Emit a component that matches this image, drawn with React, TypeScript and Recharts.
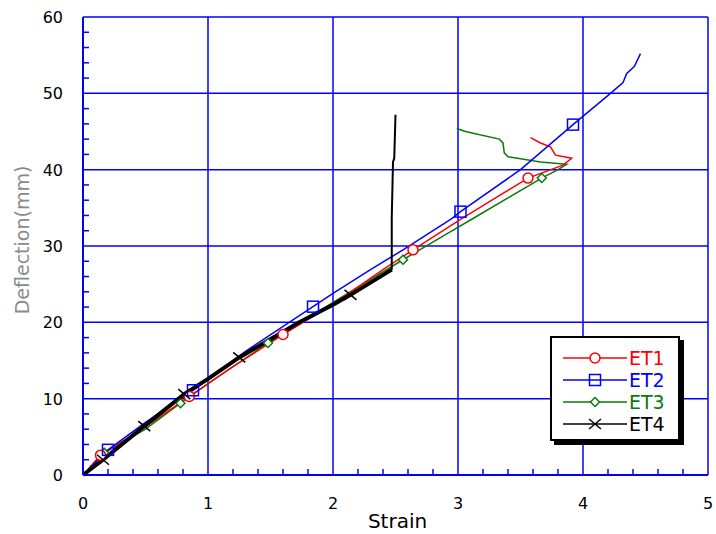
import React from 'react'
import { LineChart, Line, XAxis, YAxis, CartesianGrid } from 'recharts'

type Pt = { x: number; y: number; m?: boolean }

const X_MAJOR = [0, 1, 2, 3, 4, 5]
const X_TICKS = [0, 0.2, 0.4, 0.6, 0.8, 1, 1.2, 1.4, 1.6, 1.8, 2, 2.2, 2.4, 2.6, 2.8, 3, 3.2, 3.4, 3.6, 3.8, 4, 4.2, 4.4, 4.6, 4.8, 5]
const Y_MAJOR = [0, 10, 20, 30, 40, 50, 60]
const Y_TICKS = [0, 2, 4, 6, 8, 10, 12, 14, 16, 18, 20, 22, 24, 26, 28, 30, 32, 34, 36, 38, 40, 42, 44, 46, 48, 50, 52, 54, 56, 58, 60]

// m = marker drawn at this point
const et1: Pt[] = [
  { x: 0, y: 0 }, { x: 0.14, y: 2.6, m: true }, { x: 0.5, y: 6.3 }, { x: 0.85, y: 10.3, m: true },
  { x: 1.2, y: 14.2 }, { x: 1.6, y: 18.4, m: true }, { x: 2.0, y: 22.4 }, { x: 2.4, y: 26.9 },
  { x: 2.64, y: 29.5, m: true }, { x: 3.03, y: 33.6 }, { x: 3.3, y: 36.3 }, { x: 3.56, y: 38.9, m: true },
  { x: 3.84, y: 40.6 }, { x: 3.91, y: 41.5 }, { x: 3.78, y: 41.9 }, { x: 3.74, y: 43 },
  { x: 3.66, y: 43.5 }, { x: 3.58, y: 44.2 },
]

const et2: Pt[] = [
  { x: 0, y: 0 }, { x: 0.2, y: 3.3, m: true }, { x: 0.5, y: 6.9 }, { x: 0.88, y: 11.1, m: true },
  { x: 1.3, y: 16.2 }, { x: 1.84, y: 22.05, m: true }, { x: 2.0, y: 23.8 }, { x: 2.3, y: 26.9 },
  { x: 2.56, y: 29.5 }, { x: 2.95, y: 33.6 }, { x: 3.02, y: 34.5, m: true }, { x: 3.5, y: 40 },
  { x: 3.92, y: 45.9, m: true }, { x: 4.22, y: 50 }, { x: 4.32, y: 51.4 }, { x: 4.35, y: 52.6 },
  { x: 4.41, y: 53.5 }, { x: 4.46, y: 55.2 },
]

const et3: Pt[] = [
  { x: 0, y: 0 }, { x: 0.17, y: 2.9, m: true }, { x: 0.5, y: 6.0 }, { x: 0.78, y: 9.4, m: true },
  { x: 1.1, y: 13.1 }, { x: 1.48, y: 17.3, m: true }, { x: 1.9, y: 21.6 }, { x: 2.2, y: 24.6 },
  { x: 2.56, y: 28.2, m: true }, { x: 2.9, y: 31.5 }, { x: 3.12, y: 33.6 }, { x: 3.4, y: 36.3 },
  { x: 3.67, y: 38.9, m: true }, { x: 3.8, y: 40.0 }, { x: 3.87, y: 40.7 }, { x: 3.66, y: 41.0 },
  { x: 3.4, y: 41.7 }, { x: 3.37, y: 42.2 }, { x: 3.36, y: 43.5 }, { x: 3.33, y: 44.0 },
  { x: 3.06, y: 45.0 }, { x: 2.99, y: 45.4 },
]

const et4: Pt[] = [
  { x: 0, y: 0 }, { x: 0.16, y: 2.0, m: true }, { x: 0.49, y: 6.4, m: true }, { x: 0.81, y: 10.6, m: true },
  { x: 1.0, y: 12.6 }, { x: 1.25, y: 15.4, m: true }, { x: 1.73, y: 20 }, { x: 2.0, y: 22.3 },
  { x: 2.14, y: 23.6, m: true }, { x: 2.3, y: 25.2 }, { x: 2.47, y: 26.9 },
]
// sudden jump at the end of ET4
const et4Jump: Pt[] = [
  { x: 2.47, y: 26.9 }, { x: 2.47, y: 33.7 }, { x: 2.48, y: 41.0 }, { x: 2.49, y: 41.5 }, { x: 2.5, y: 47.2 },
]

const BLUE = '#0000ff'
const FONT = '"DejaVu Sans", Arial, sans-serif'

type Shape = 'circle' | 'square' | 'diamond' | 'cross'

function Marker({ shape, cx, cy, color }: { shape: Shape; cx: number; cy: number; color: string }) {
  if (shape === 'circle') return <circle cx={cx} cy={cy} r={5} fill="#fff" stroke={color} strokeWidth={1.5} />
  if (shape === 'square') return <rect x={cx - 5.5} y={cy - 5.5} width={11} height={11} fill="none" stroke={color} strokeWidth={1.5} />
  if (shape === 'diamond')
    return <path d={`M${cx},${cy - 4.5}L${cx + 4.5},${cy}L${cx},${cy + 4.5}L${cx - 4.5},${cy}Z`} fill="#fff" stroke={color} strokeWidth={1.5} />
  return <path d={`M${cx - 6},${cy - 5}L${cx + 6},${cy + 5}M${cx - 6},${cy + 5}L${cx + 6},${cy - 5}`} stroke={color} strokeWidth={1.5} />
}

const dotFor = (shape: Shape, color: string) => (p: any) => {
  if (!p.payload || !p.payload.m) return <g key={p.key ?? p.index} />
  return <g key={p.key ?? p.index}><Marker shape={shape} cx={p.cx} cy={p.cy} color={color} /></g>
}

function BottomTick({ x, y, payload }: any) {
  const v = payload.value
  const major = Number.isInteger(v)
  return (
    <g>
      {!major && <line x1={x} x2={x} y1={y} y2={y - 6} stroke={BLUE} strokeWidth={1.5} />}
      {major && (
        <text x={x} y={y + 34} textAnchor="middle" fontSize={16} fontFamily={FONT} fill="#000">{v}</text>
      )}
    </g>
  )
}

function TopTick({ x, y, payload }: any) {
  if (Number.isInteger(payload.value)) return <g />
  return <line x1={x} x2={x} y1={y} y2={y + 6} stroke={BLUE} strokeWidth={1.5} />
}

function LeftTick({ x, y, payload }: any) {
  const v = payload.value
  const major = v % 10 === 0
  return (
    <g>
      {!major && <line x1={x} x2={x + 6} y1={y} y2={y} stroke={BLUE} strokeWidth={1.5} />}
      {major && (
        <text x={x - 20} y={y + 6} textAnchor="end" fontSize={16} fontFamily={FONT} fill="#000">{v}</text>
      )}
    </g>
  )
}

function RightTick({ x, y, payload }: any) {
  if (payload.value % 10 === 0) return <g />
  return <line x1={x} x2={x - 6} y1={y} y2={y} stroke={BLUE} strokeWidth={1.5} />
}

const SERIES: { name: string; color: string; shape: Shape }[] = [
  { name: 'ET1', color: '#ff0000', shape: 'circle' },
  { name: 'ET2', color: '#0000ff', shape: 'square' },
  { name: 'ET3', color: '#0a7a0a', shape: 'diamond' },
  { name: 'ET4', color: '#000000', shape: 'cross' },
]

function LegendBox() {
  return (
    <div
      style={{
        position: 'absolute', left: 550, top: 336, width: 126, height: 101,
        border: '2px solid #000', boxShadow: '4px 4px 0 #000', background: '#fff',
      }}
    >
      {SERIES.map((s, i) => (
        <div key={s.name} style={{ position: 'absolute', left: 11, top: 10 + i * 22, height: 20, display: 'flex', alignItems: 'center' }}>
          <svg width={64} height={20}>
            <line x1={0} x2={64} y1={10} y2={10} stroke={s.color} strokeWidth={1.5} />
            <Marker shape={s.shape} cx={32} cy={10} color={s.color} />
          </svg>
          <span style={{ color: s.color, fontFamily: FONT, fontSize: 19, marginLeft: 2, lineHeight: '20px' }}>{s.name}</span>
        </div>
      ))}
    </div>
  )
}

export default function App() {
  return (
    <div style={{ position: 'absolute', left: 0, top: 0, width: 716, height: 534, background: '#fff' }}>
      <LineChart width={716} height={534} margin={{ top: 17, right: 8, bottom: 0, left: 0 }}>
        <CartesianGrid
          xAxisId="b" yAxisId="l" stroke={BLUE} strokeWidth={1.5}
          verticalValues={X_MAJOR} horizontalValues={Y_MAJOR}
        />
        <XAxis
          xAxisId="b" type="number" dataKey="x" domain={[0, 5]} ticks={X_TICKS} interval={0}
          height={59} tickSize={0} tickMargin={0} tickLine={false}
          axisLine={{ stroke: BLUE, strokeWidth: 2 }} tick={<BottomTick />}
          label={({ viewBox }: any) => (
            <text x={viewBox.x + viewBox.width / 2 + 2} y={viewBox.y + 53} textAnchor="middle" fontSize={20} fontFamily={FONT} fill="#000">
              Strain
            </text>
          )}
        />
        <XAxis
          xAxisId="t" orientation="top" type="number" dataKey="x" domain={[0, 5]} ticks={X_TICKS} interval={0}
          height={0} tickSize={0} tickMargin={0} tickLine={false}
          axisLine={{ stroke: BLUE, strokeWidth: 2 }} tick={<TopTick />}
        />
        <YAxis
          yAxisId="l" type="number" domain={[0, 60]} ticks={Y_TICKS} interval={0}
          width={83} tickSize={0} tickMargin={0} tickLine={false}
          axisLine={{ stroke: BLUE, strokeWidth: 2 }} tick={<LeftTick />}
          label={({ viewBox }: any) => {
            const cx = 22
            const cy = viewBox.y + viewBox.height / 2 - 6
            return (
              <text x={cx} y={cy} transform={`rotate(-90 ${cx} ${cy})`} textAnchor="middle" dominantBaseline="central"
                fontSize={19} fontFamily={FONT} fill="#8a8a8a">
                Deflection(mm)
              </text>
            )
          }}
        />
        <YAxis
          yAxisId="r" orientation="right" type="number" domain={[0, 60]} ticks={Y_TICKS} interval={0}
          width={0} tickSize={0} tickMargin={0} tickLine={false}
          axisLine={{ stroke: BLUE, strokeWidth: 2 }} tick={<RightTick />}
        />
        <Line xAxisId="b" yAxisId="l" data={et3} dataKey="y" type="linear" stroke={SERIES[2].color} strokeWidth={1.5}
          dot={dotFor('diamond', SERIES[2].color)} activeDot={false} isAnimationActive={false} />
        <Line xAxisId="b" yAxisId="l" data={et1} dataKey="y" type="linear" stroke={SERIES[0].color} strokeWidth={1.5}
          dot={dotFor('circle', SERIES[0].color)} activeDot={false} isAnimationActive={false} />
        <Line xAxisId="b" yAxisId="l" data={et2} dataKey="y" type="linear" stroke={SERIES[1].color} strokeWidth={1.5}
          dot={dotFor('square', SERIES[1].color)} activeDot={false} isAnimationActive={false} />
        <Line xAxisId="b" yAxisId="l" data={et4} dataKey="y" type="linear" stroke="#000" strokeWidth={4}
          dot={dotFor('cross', '#000')} activeDot={false} isAnimationActive={false} />
        <Line xAxisId="b" yAxisId="l" data={et4Jump} dataKey="y" type="linear" stroke="#000" strokeWidth={2}
          dot={false} activeDot={false} isAnimationActive={false} />
      </LineChart>
      <LegendBox />
    </div>
  )
}
